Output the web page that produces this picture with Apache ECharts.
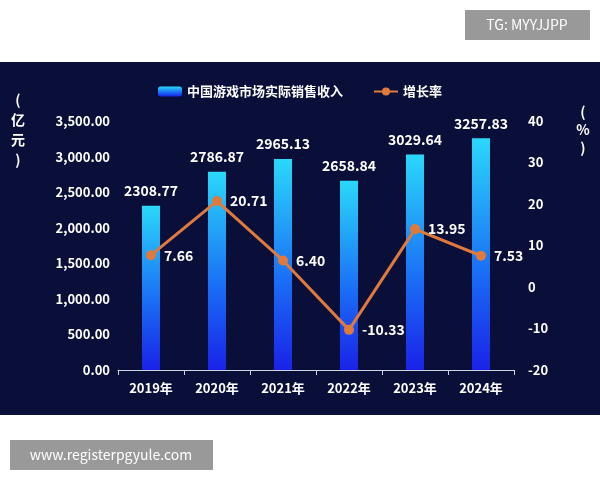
<!DOCTYPE html>
<html><head><meta charset="utf-8">
<script src="https://cdn.jsdelivr.net/npm/echarts@6/dist/echarts.min.js"></script>
<style>html,body{margin:0;padding:0;background:#fff}#c{width:600px;height:480px}</style>
</head><body><div id="c"></div>
<script>
const categories = ['2019年','2020年','2021年','2022年','2023年','2024年'];
const revenue = [2308.77, 2786.87, 2965.13, 2658.84, 3029.64, 3257.83];
const growth = [7.66, 20.71, 6.40, -10.33, 13.95, 7.53];
const leftTicks = {min:0, max:3500, interval:500};
const rightTicks = {min:-20, max:40, interval:10};

const chart = echarts.init(document.getElementById('c'));
const font = '"Noto Sans CJK SC", "Noto Sans", sans-serif';
chart.setOption({
  backgroundColor: '#fff',
  textStyle: {fontFamily: font},
  graphic: [
    {type:'rect', z:-10, shape:{x:0,y:62,width:600,height:353}, style:{fill:'#0a0f3a'}},
    {type:'rect', shape:{x:465,y:10,width:125,height:30}, style:{fill:'#999'}},
    {type:'text', x:527, y:25, style:{text:'TG: MYYJJPP', fill:'#fff', font:'14px '+font, align:'center', verticalAlign:'middle'}},
    {type:'rect', shape:{x:10,y:440,width:203,height:30}, style:{fill:'#999'}},
    {type:'text', x:111, y:455, style:{text:'www.registerpgyule.com', fill:'#fff', font:'14px '+font, align:'center', verticalAlign:'middle'}},
    {type:'text', x:18, y:130, style:{text:'(\n亿\n元\n)', fill:'#fff', font:'bold 14px '+font, align:'center', verticalAlign:'middle', lineHeight:20}},
    {type:'text', x:583, y:130, style:{text:'(\n%\n)', fill:'#fff', font:'bold 14px '+font, align:'center', verticalAlign:'middle', lineHeight:18}}
  ],
  legend: {
    top: 80, left: 'center', itemGap: 30, itemWidth: 24, itemHeight: 10,
    textStyle: {color:'#fff', fontWeight:'bold', fontSize:13},
    data: ['中国游戏市场实际销售收入','增长率']
  },
  grid: {left:118, right:86, top:121, bottom:110},
  xAxis: {
    type:'category', data: categories,
    axisLine:{lineStyle:{color:'#cfd3e6'}}, axisTick:{show:true, lineStyle:{color:'#cfd3e6'}},
    axisLabel:{color:'#fff', fontWeight:'bold', fontSize:13, margin:12}
  },
  yAxis: [
    {type:'value', ...leftTicks, splitLine:{show:false},
     axisLabel:{color:'#fff', fontWeight:'bold', fontSize:13, formatter: v => v.toLocaleString('en-US',{minimumFractionDigits:2})}},
    {type:'value', ...rightTicks, splitLine:{show:false},
     axisLabel:{color:'#fff', fontWeight:'bold', fontSize:13, margin:14}}
  ],
  series: [
    {name:'中国游戏市场实际销售收入', type:'bar', data: revenue, barWidth:18,
     itemStyle:{color:new echarts.graphic.LinearGradient(0,0,0,1,[{offset:0,color:'#2ad8fa'},{offset:0.6,color:'#1a6af5'},{offset:1,color:'#1a22e8'}])},
     label:{show:true, position:'top', color:'#fff', fontWeight:'bold', fontSize:14, distance:8, formatter: p => p.value.toFixed(2)}},
    {name:'增长率', type:'line', yAxisIndex:1, data: growth, symbol:'circle', symbolSize:10,
     lineStyle:{color:'#e07a3c', width:3}, itemStyle:{color:'#e07a3c'},
     label:{show:true, position:'right', color:'#fff', fontWeight:'bold', fontSize:14, distance:8, formatter: p => p.value.toFixed(2)}}
  ]
});
</script></body></html>
